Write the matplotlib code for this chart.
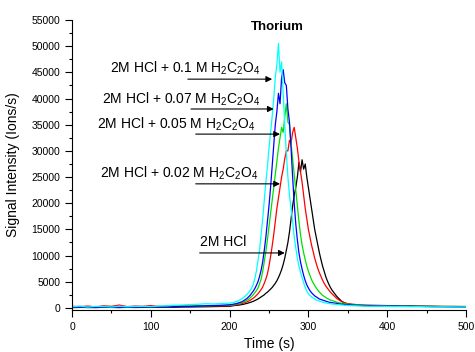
import numpy as np
import matplotlib
matplotlib.use("Agg")
import matplotlib.pyplot as plt
from matplotlib.ticker import MultipleLocator

plt.rcParams['font.family'] = ['Liberation Sans', 'DejaVu Sans']
plt.rcParams['mathtext.fontset'] = 'custom'
plt.rcParams['mathtext.rm'] = 'Liberation Sans'
plt.rcParams['mathtext.it'] = 'Liberation Sans:italic'
plt.rcParams['mathtext.bf'] = 'Liberation Sans:bold'

# Time grids (s): baseline, elution peak, tail
t_base = list(range(0, 200, 10))
t_peak = list(range(200, 352, 2))
t_tail = list(range(360, 510, 10))

# Signal intensity (ions/s) for each eluent
hcl_base = [50, 100, 80, 60, 120, 90, 70, 110, 80, 100, 120, 90, 150, 130, 160, 180, 200, 220, 250, 280]
hcl_peak = [300, 350, 400, 450, 500, 500, 550, 600, 650, 700,
            800, 850, 950, 1050, 1150, 1250, 1400, 1550, 1700, 1900,
            2100, 2300, 2500, 2800, 3000, 3300, 3600, 3900, 4300, 4700,
            5200, 5800, 6500, 7300, 8300, 9500, 11000, 12500, 14500, 17000,
            19500, 21500, 23000, 25000, 27800, 26000, 28300, 26500, 27500, 25000,
            23000, 21000, 19000, 17000, 15000, 13500, 12000, 10500, 9200, 8000,
            7000, 6000, 5200, 4500, 3900, 3400, 3000, 2600, 2200, 1900,
            1600, 1300, 1100, 950, 850, 750]
hcl_tail = [550, 450, 400, 380, 350, 330, 320, 300, 280, 270, 260, 250, 240, 230, 220]

ox002_base = [300, 250, 350, 200, 400, 300, 550, 250, 350, 300, 450, 280, 320, 300, 350, 330, 380, 350, 400, 380]
ox002_peak = [400, 450, 500, 550, 600, 650, 700, 800, 850, 950,
              1050, 1150, 1300, 1450, 1650, 1850, 2100, 2400, 2700, 3100,
              3500, 4000, 4700, 5500, 6500, 8000, 9800, 11800, 14000, 16500,
              19000, 21000, 23000, 25000, 26500, 28500, 30000, 30000, 32000, 31500,
              33500, 34500, 32500, 30500, 28000, 26000, 24000, 21500, 19000, 17000,
              15000, 13500, 12000, 10800, 9500, 8500, 7500, 6700, 6000, 5300,
              4700, 4200, 3800, 3400, 3000, 2700, 2400, 2100, 1800, 1600,
              1400, 1250, 1100, 1000, 900, 800]
ox002_tail = [650, 550, 500, 480, 450, 420, 400, 380, 360, 340, 320, 300, 290, 280, 270]

ox005_base = [150, 250, 120, 200, 300, 160, 240, 180, 220, 260, 200, 230, 280, 300, 350, 320, 380, 420, 450, 480]
ox005_peak = [500, 550, 600, 650, 700, 800, 850, 950, 1050, 1150,
              1300, 1450, 1650, 1900, 2200, 2500, 2900, 3300, 3800, 4600,
              5500, 7000, 8800, 10800, 13000, 15500, 18000, 20500, 23000, 25500,
              28000, 30500, 32500, 34500, 33500, 36500, 39000, 35500, 35000, 31500,
              28500, 25500, 22500, 19500, 16500, 14000, 12000, 10500, 9200, 8000,
              7000, 6200, 5400, 4800, 4300, 3800, 3400, 3000, 2700, 2400,
              2200, 2000, 1800, 1650, 1500, 1400, 1300, 1200, 1100, 1000,
              950, 900, 850, 800, 750, 700]
ox005_tail = [600, 520, 480, 450, 420, 400, 380, 360, 340, 320, 300, 290, 280, 270, 260]

ox007_base = [100, 200, 80, 150, 120, 180, 90, 160, 130, 200, 150, 220, 180, 250, 300, 280, 350, 400, 450, 500]
ox007_peak = [600, 650, 700, 750, 800, 900, 1000, 1100, 1200, 1400,
              1600, 1800, 2100, 2400, 2800, 3200, 3700, 4300, 5000, 6000,
              7200, 8800, 11000, 13500, 16500, 19500, 23000, 27000, 31000, 35000,
              37500, 41000, 39000, 44000, 45500, 43000, 42500, 38000, 35500, 30500,
              25000, 20000, 16000, 13000, 10500, 8800, 7400, 6200, 5200, 4400,
              3800, 3300, 2900, 2600, 2300, 2100, 1900, 1700, 1600, 1500,
              1400, 1300, 1200, 1100, 1050, 1000, 950, 900, 850, 800,
              750, 700, 700, 650, 600, 600]
ox007_tail = [500, 450, 420, 400, 380, 360, 340, 320, 300, 280, 260, 250, 240, 220, 200]

ox01_base = [200, 350, 150, 300, 250, 180, 320, 220, 280, 300, 260, 350, 400, 500, 550, 650, 700, 800, 750, 850]
ox01_peak = [900, 1000, 950, 1100, 1200, 1300, 1450, 1600, 1800, 2000,
             2300, 2600, 2900, 3300, 3800, 4500, 5600, 7000, 9000, 11000,
             14000, 17000, 20500, 24000, 27000, 30500, 33500, 36500, 40000, 44000,
             46500, 50500, 45000, 47000, 41000, 35000, 29500, 25000, 21500, 19000,
             16500, 13500, 11500, 9500, 8000, 6800, 5800, 4800, 3900, 3200,
             2700, 2400, 2100, 1900, 1700, 1500, 1400, 1300, 1200, 1100,
             1000, 950, 900, 850, 800, 750, 700, 700, 650, 600,
             600, 550, 550, 500, 500, 450]
ox01_tail = [400, 350, 300, 320, 280, 250, 270, 230, 250, 220, 200, 230, 210, 190, 200]

series = [
    (hcl_base, hcl_peak, hcl_tail, 'black'),
    (ox002_base, ox002_peak, ox002_tail, 'red'),
    (ox005_base, ox005_peak, ox005_tail, '#00e000'),
    (ox007_base, ox007_peak, ox007_tail, 'blue'),
    (ox01_base, ox01_peak, ox01_tail, 'cyan'),
]

labels = [
    r'2M HCl + 0.1 M H$_2$C$_2$O$_4$',
    r'2M HCl + 0.07 M H$_2$C$_2$O$_4$',
    r'2M HCl + 0.05 M H$_2$C$_2$O$_4$',
    r'2M HCl + 0.02 M H$_2$C$_2$O$_4$',
    '2M HCl',
]
# text anchor (time, signal), arrow start and tip
label_xy = [(48, 44970), (38, 39060), (32, 34280), (36, 24930), (162, 11750)]
arrow_from = [(147, 43700), (151, 38000), (157, 33200), (157, 23700), (162, 10500)]
arrow_to = [(254, 43700), (256, 38000), (264, 33200), (264, 23700), (270, 10500)]

fig = plt.figure(figsize=(4.75, 3.52), dpi=100)
ax = fig.add_axes([0.1516, 0.1193, 0.8294, 0.8239])

t_all = np.array(t_base + t_peak + t_tail)
for base, peak, tail, color in series:
    ax.plot(t_all, np.array(base + peak + tail), color=color, lw=0.9)

for text, (tx, ty), p0, p1 in zip(labels, label_xy, arrow_from, arrow_to):
    ax.text(tx, ty, text, fontsize=10, ha='left', va='baseline')
    ax.annotate('', xy=p1, xytext=p0,
                arrowprops=dict(arrowstyle='-|>', color='black', lw=0.8,
                                mutation_scale=9, shrinkA=0, shrinkB=0))

ax.text(261, 53700, 'Thorium', fontsize=9.5, fontweight='bold', ha='center', va='center')

ax.set_xlim(0, 500)
ax.set_ylim(-400, 55000)
ax.xaxis.set_major_locator(MultipleLocator(100))
ax.xaxis.set_minor_locator(MultipleLocator(50))
ax.yaxis.set_major_locator(MultipleLocator(5000))
ax.yaxis.set_minor_locator(MultipleLocator(2500))
ax.tick_params(which='major', direction='out', length=5, width=0.8, labelsize=7.5)
ax.tick_params(which='minor', direction='out', length=2.5, width=0.8)
ax.spines['top'].set_visible(False)
ax.spines['right'].set_visible(False)
ax.set_xlabel('Time (s)', fontsize=10, labelpad=4)
ax.set_ylabel('Signal Intensity (Ions/s)', fontsize=10, labelpad=8)

fig.savefig('out.png', dpi=100)
